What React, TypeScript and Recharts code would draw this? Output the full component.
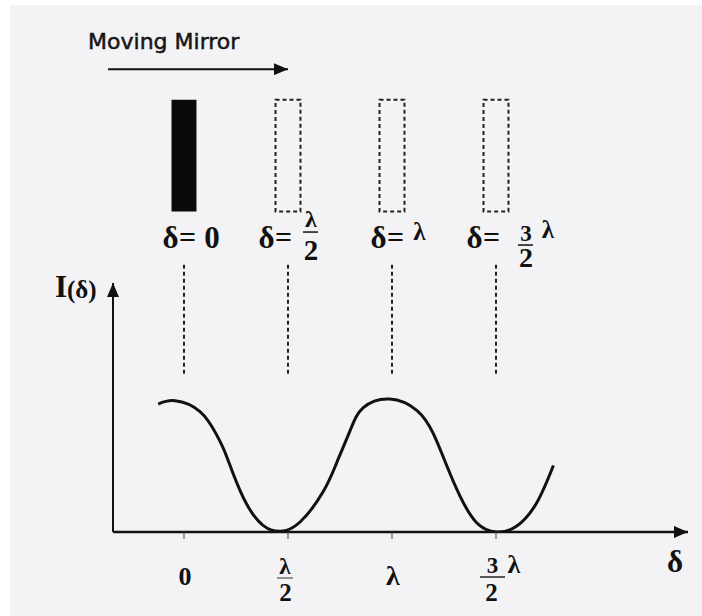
import { LineChart, Line, XAxis, YAxis, ReferenceLine, ReferenceArea, ReferenceDot } from 'recharts';

// mirror positions, as path difference δ in units of λ
const mirrorPositions = [0, 0.5, 1, 1.5];
const mirrorLabels = ['δ=0', 'δ=λ/2', 'δ=λ', 'δ=3/2λ'];

const tickValues = [0, 0.5, 1, 1.5];
const tickLabels = ['0', 'λ/2', 'λ', '3/2λ'];

// detector signal I(δ), peaks normalised to 1
const curveDelta = [
  -0.124, -0.043, 0.077, 0.157, 0.197, 0.236, 0.301, 0.38, 0.462, 0.558, 0.668, 0.734,
  0.798, 0.862, 0.99, 1.119, 1.197, 1.263, 1.327, 1.407, 1.503, 1.6, 1.696, 1.776,
];
const curveIntensity = [
  0.962, 0.987, 0.905, 0.73, 0.6, 0.44, 0.21, 0.05, 0.005, 0.075, 0.3, 0.52,
  0.76, 0.935, 1.0, 0.915, 0.745, 0.5, 0.27, 0.07, 0.0, 0.045, 0.22, 0.5,
];

const titleText = 'Moving Mirror';
const yTitle = ['I', '(δ)'];
const xTitle = 'δ';

const W = 702;
const H = 616;
const X_MIN = -0.3413;
const X_MAX = 2.4231;

// vertical placement of the upper drawing, in I units
const MIRROR_TOP = 3.25;
const MIRROR_BOTTOM = 2.41;
const MIRROR_HALF = 0.06;
const LABEL_Y = 2.135;
const GUIDE_TOP = 2.01;
const GUIDE_BOTTOM = 1.18;
const ARROW_Y = 3.48;
const ARROW_FROM = -0.365;
const Y_AXIS_TOP = 1.872;

const serif = { fontFamily: '"Liberation Serif", "DejaVu Serif", serif', fontWeight: 700, fill: '#111' } as const;

const curveData = curveDelta.map((d, k) => ({ d, i: curveIntensity[k] }));

function splitFrac(s: string) {
  const m = s.match(/^([^/]+)\/(\d)(.*)$/);
  return m ? { num: m[1], den: m[2], tail: m[3] } : null;
}

function MirrorLabel({ cx, cy, text }: { cx: number; cy: number; text: string }) {
  const value = text.replace('δ=', '');
  const frac = splitFrac(value);
  const start = cx - (frac ? 29 : 21);
  const head = (
    <>
      <text x={start + 7.5} y={cy} textAnchor="middle" fontSize={31} {...serif}>δ</text>
      <text x={start + 24.5} y={cy - 1} textAnchor="middle" fontSize={30} {...serif}>=</text>
    </>
  );
  if (!frac) {
    const raised = value === 'λ';
    return (
      <g>
        {head}
        <text x={start + (raised ? 48.5 : 49)} y={raised ? cy - 8 : cy} textAnchor="middle" fontSize={raised ? 25 : 31} {...serif}>
          {value}
        </text>
      </g>
    );
  }
  if (!frac.tail) {
    const fx = start + 52;
    return (
      <g>
        {head}
        <text x={fx} y={cy - 21} textAnchor="middle" fontSize={24} {...serif}>{frac.num}</text>
        <line x1={fx - 8} x2={fx + 7} y1={cy - 16} y2={cy - 16} stroke="#111" strokeWidth={1.5} />
        <text x={fx} y={cy + 12} textAnchor="middle" fontSize={29} {...serif}>{frac.den}</text>
      </g>
    );
  }
  const fx = start + 59;
  return (
    <g>
      {head}
      <text x={fx} y={cy - 7} textAnchor="middle" fontSize={23} {...serif}>{frac.num}</text>
      <line x1={fx - 8} x2={fx + 7} y1={cy - 3} y2={cy - 3} stroke="#111" strokeWidth={1.5} />
      <text x={fx} y={cy + 19} textAnchor="middle" fontSize={28} {...serif}>{frac.den}</text>
      <text x={fx + 22} y={cy - 10} textAnchor="middle" fontSize={25} {...serif}>{frac.tail}</text>
    </g>
  );
}

function TickLabel({ x, y, payload }: any) {
  const idx = tickValues.indexOf(payload.value);
  const label = tickLabels[idx] ?? '';
  const frac = splitFrac(label);
  if (!frac) {
    return (
      <text x={x + 1} y={y + 46} textAnchor="middle" fontSize={label === 'λ' ? 28 : 26} {...serif}>
        {label}
      </text>
    );
  }
  if (!frac.tail) {
    return (
      <g>
        <text x={x - 3} y={y + 35} textAnchor="middle" fontSize={23} {...serif}>{frac.num}</text>
        <line x1={x - 11} x2={x + 5} y1={y + 39} y2={y + 39} stroke="#333" strokeWidth={1} />
        <text x={x - 2.5} y={y + 62} textAnchor="middle" fontSize={25} {...serif}>{frac.den}</text>
      </g>
    );
  }
  return (
    <g>
      <text x={x - 3.5} y={y + 34} textAnchor="middle" fontSize={23} {...serif}>{frac.num}</text>
      <line x1={x - 16} x2={x + 9} y1={y + 38} y2={y + 38} stroke="#222" strokeWidth={1.5} />
      <text x={x - 4.5} y={y + 62} textAnchor="middle" fontSize={25} {...serif}>{frac.den}</text>
      <text x={x + 18} y={y + 34} textAnchor="middle" fontSize={26} {...serif}>{frac.tail}</text>
    </g>
  );
}

export default function App() {
  return (
    <div style={{ position: 'absolute', left: 0, top: 0, width: W, height: H, background: '#fff' }}>
      <div style={{ position: 'absolute', left: 10, top: 5, right: 0, bottom: 0, background: '#f3f2f5' }} />
      <div style={{ position: 'absolute', left: 0, top: 0 }}>
        <LineChart width={W} height={H} data={curveData} margin={{ top: 0, right: 14, bottom: 0, left: 113 }}>
          <defs>
            <marker id="arrowHead" viewBox="0 0 14 12" refX={14} refY={6} markerWidth={14} markerHeight={12} markerUnits="userSpaceOnUse" orient="auto">
              <path d="M0,0 L14,6 L0,12 z" fill="#111" />
            </marker>
          </defs>
          <XAxis
            dataKey="d"
            type="number"
            domain={[X_MIN, X_MAX]}
            allowDataOverflow
            ticks={tickValues}
            interval={0}
            height={84}
            tickSize={7}
            tickMargin={0}
            axisLine={{ stroke: '#111', strokeWidth: 2.5, markerEnd: 'url(#arrowHead)' }}
            tickLine={{ stroke: '#444', strokeWidth: 1 }}
            tick={(p: any) => <TickLabel {...p} />}
          />
          <YAxis hide width={0} type="number" domain={[0, 4]} allowDataOverflow />

          {/* y axis with arrow */}
          <ReferenceLine
            segment={[{ x: X_MIN, y: 0 }, { x: X_MIN, y: Y_AXIS_TOP }]}
            stroke="#111"
            strokeWidth={2}
            ifOverflow="visible"
            markerEnd="url(#arrowHead)"
          />
          <ReferenceDot
            x={X_MIN}
            y={1.767}
            ifOverflow="visible"
            shape={(p: any) => (
              <g>
                <text x={p.cx - 52} y={p.cy} textAnchor="middle" fontSize={31} {...serif}>{yTitle[0]}</text>
                <text x={p.cx - 46} y={p.cy + 1} fontSize={25} {...serif}>{yTitle[1]}</text>
              </g>
            )}
          />
          <ReferenceDot
            x={X_MAX}
            y={0}
            ifOverflow="visible"
            shape={(p: any) => (
              <text x={p.cx - 13} y={p.cy + 40} textAnchor="middle" fontSize={31} {...serif}>{xTitle}</text>
            )}
          />

          {/* direction of mirror travel */}
          <ReferenceLine
            segment={[{ x: ARROW_FROM, y: ARROW_Y }, { x: mirrorPositions[1], y: ARROW_Y }]}
            stroke="#111"
            strokeWidth={2}
            ifOverflow="visible"
            markerEnd="url(#arrowHead)"
          />
          <ReferenceDot
            x={ARROW_FROM}
            y={ARROW_Y}
            ifOverflow="visible"
            shape={(p: any) => (
              <text x={p.cx - 20} y={p.cy - 20} fontSize={22} fontFamily='"DejaVu Sans", Verdana, sans-serif' fill="#151515" stroke="#151515" strokeWidth={0.5}>
                {titleText}
              </text>
            )}
          />

          {mirrorPositions.map((m, k) => (
            <ReferenceArea
              key={`mirror-${k}`}
              x1={m - MIRROR_HALF}
              x2={m + MIRROR_HALF}
              y1={MIRROR_BOTTOM}
              y2={MIRROR_TOP}
              ifOverflow="visible"
              fill={k === 0 ? '#0a0a0a' : 'none'}
              fillOpacity={1}
              stroke="#222"
              strokeWidth={k === 0 ? 0 : 2}
              strokeDasharray={k === 0 ? undefined : '4 3'}
            />
          ))}
          {mirrorPositions.map((m, k) => (
            <ReferenceDot
              key={`label-${k}`}
              x={m}
              y={LABEL_Y}
              ifOverflow="visible"
              shape={(p: any) => <MirrorLabel cx={p.cx} cy={p.cy} text={mirrorLabels[k]} />}
            />
          ))}
          {mirrorPositions.map((m, k) => (
            <ReferenceLine
              key={`guide-${k}`}
              segment={[{ x: m, y: GUIDE_TOP }, { x: m, y: GUIDE_BOTTOM }]}
              stroke="#222"
              strokeWidth={2}
              strokeDasharray="4 3"
              ifOverflow="visible"
            />
          ))}

          <Line
            type="natural"
            dataKey="i"
            stroke="#111"
            strokeWidth={3}
            dot={false}
            isAnimationActive={false}
          />
        </LineChart>
      </div>
    </div>
  );
}
